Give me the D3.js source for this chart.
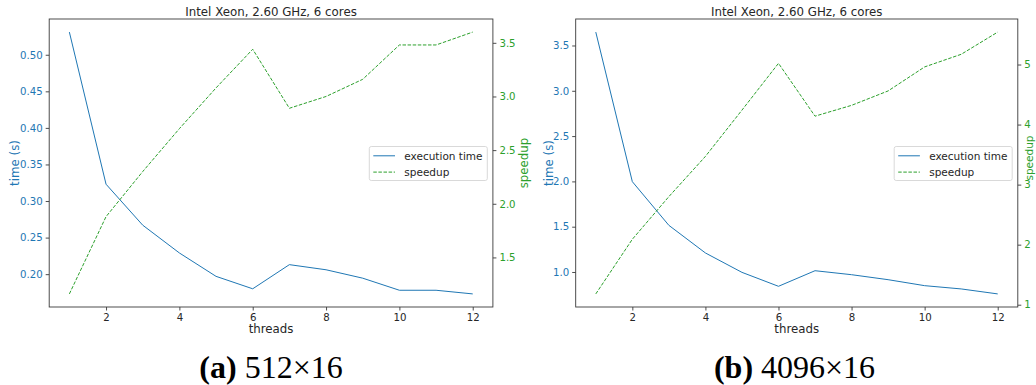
<!DOCTYPE html>
<html>
<head>
<meta charset="utf-8">
<script src="https://cdn.jsdelivr.net/npm/d3@7"></script>
<style>
  html, body { margin: 0; padding: 0; background: #fff; }
  svg { display: block; }
</style>
</head>
<body>
<svg id="chart" width="1036" height="385"></svg>
<script>
// ---------------- data ----------------
const threads = [1, 2, 3, 4, 5, 6, 7, 8, 9, 10, 11, 12];
const threadTicks = [2, 4, 6, 8, 10, 12];

const titleText = "Intel Xeon, 2.60 GHz, 6 cores";
const seriesNames = ["execution time", "speedup"];

// panel (a) 512x16
const timeA    = [0.531, 0.323, 0.267, 0.229, 0.197, 0.180, 0.213, 0.206, 0.1945, 0.178, 0.178, 0.173];
const speedupA = [1.16, 1.88, 2.30, 2.70, 3.08, 3.44, 2.89, 3.00, 3.16, 3.48, 3.48, 3.60];
const timeTicksA  = [0.20, 0.25, 0.30, 0.35, 0.40, 0.45, 0.50];
const timeTickLabelsA = ["0.20", "0.25", "0.30", "0.35", "0.40", "0.45", "0.50"];
const speedTicksA = [1.5, 2.0, 2.5, 3.0, 3.5];
const speedTickLabelsA = ["1.5", "2.0", "2.5", "3.0", "3.5"];

// panel (b) 4096x16
const timeB    = [3.648, 1.997, 1.515, 1.21, 0.996, 0.842, 1.014, 0.970, 0.915, 0.849, 0.813, 0.758];
const speedupB = [1.18, 2.09, 2.80, 3.47, 4.24, 5.02, 4.14, 4.32, 4.56, 4.96, 5.17, 5.54];
const timeTicksB  = [1.0, 1.5, 2.0, 2.5, 3.0, 3.5];
const timeTickLabelsB = ["1.0", "1.5", "2.0", "2.5", "3.0", "3.5"];
const speedTicksB = [1, 2, 3, 4, 5];
const speedTickLabelsB = ["1", "2", "3", "4", "5"];

const captionTagA = "(a)", captionTextA = "512×16";
const captionTagB = "(b)", captionTextB = "4096×16";

// ---------------- drawing ----------------
const svg = d3.select("#chart");
const BLUE = "#1f77b4", GREEN = "#2ca02c", SPINE = "#3a3a3a", TXT = "#262626";
const FONT = "DejaVu Sans, sans-serif";

function padded(vals) {
  const lo = d3.min(vals), hi = d3.max(vals), r = hi - lo;
  return [lo - 0.05 * r, hi + 0.05 * r];
}

function panel(cfg) {
  const { left, right, top, bottom } = cfg;
  const g = svg.append("g");
  const x = d3.scaleLinear().domain([threads[0] - 0.05 * 11, threads[threads.length - 1] + 0.05 * 11]).range([left, right]);
  const yT = d3.scaleLinear().domain(padded(cfg.time)).range([bottom, top]);
  const yS = d3.scaleLinear().domain(padded(cfg.speed)).range([bottom, top]);

  // axes
  const xAxis = d3.axisBottom(x).tickValues(threadTicks).tickFormat(d3.format("d")).tickSizeOuter(0).tickSize(3.5).tickPadding(3);
  const yAxisL = d3.axisLeft(yT).tickValues(cfg.timeTicks).tickFormat((d, i) => cfg.timeLabels[i]).tickSizeOuter(0).tickSize(3.5).tickPadding(3);
  const yAxisR = d3.axisRight(yS).tickValues(cfg.speedTicks).tickFormat((d, i) => cfg.speedLabels[i]).tickSizeOuter(0).tickSize(3.5).tickPadding(3);

  const gx = g.append("g").attr("transform", `translate(0,${bottom})`).call(xAxis);
  const gl = g.append("g").attr("transform", `translate(${left},0)`).call(yAxisL);
  const gr = g.append("g").attr("transform", `translate(${right},0)`).call(yAxisR);
  [gx, gl, gr].forEach(a => {
    a.select(".domain").remove();
    a.selectAll(".tick line").attr("stroke", SPINE).attr("stroke-width", 0.9);
    a.selectAll("text").attr("font-family", FONT).attr("font-size", 10.2);
  });
  gx.selectAll("text").attr("fill", TXT);
  gl.selectAll("text").attr("fill", BLUE);
  gr.selectAll("text").attr("fill", GREEN);

  // frame
  g.append("rect").attr("x", left).attr("y", top).attr("width", right - left).attr("height", bottom - top)
    .attr("fill", "none").attr("stroke", SPINE).attr("stroke-width", 0.9);

  // lines
  const lineT = d3.line().x((d, i) => x(threads[i])).y(d => yT(d));
  const lineS = d3.line().x((d, i) => x(threads[i])).y(d => yS(d));
  g.append("path").datum(cfg.time).attr("d", lineT).attr("fill", "none").attr("stroke", BLUE).attr("stroke-width", 1.0);
  g.append("path").datum(cfg.speed).attr("d", lineS).attr("fill", "none").attr("stroke", GREEN).attr("stroke-width", 1.0)
    .attr("stroke-dasharray", "3.5,1.6");

  // title
  g.append("text").attr("x", (left + right) / 2).attr("y", 15.5).attr("text-anchor", "middle")
    .attr("font-family", FONT).attr("font-size", 11.8).attr("fill", TXT).text(titleText);
  // x label
  g.append("text").attr("x", (left + right) / 2).attr("y", 332.5).attr("text-anchor", "middle")
    .attr("font-family", FONT).attr("font-size", 11.8).attr("fill", TXT).text("threads");
  // y labels
  const cy = (top + bottom) / 2;
  g.append("text").attr("transform", `translate(${cfg.leftLabelX},${cy}) rotate(-90)`).attr("text-anchor", "middle")
    .attr("font-family", FONT).attr("font-size", 11.8).attr("fill", BLUE).text("time (s)");
  g.append("text").attr("transform", `translate(${cfg.rightLabelX},${cfg.rightLabelY}) rotate(-90)`).attr("text-anchor", "middle")
    .attr("font-family", FONT).attr("font-size", cfg.rightLabelSize).attr("fill", GREEN).text("speedup");

  // legend
  const lw = 118, lh = 34;
  const lx = right - 5.6 - lw, ly = cy - lh / 2 + 0.5;
  const lg = g.append("g");
  lg.append("rect").attr("x", lx).attr("y", ly).attr("width", lw).attr("height", lh).attr("rx", 2)
    .attr("fill", "#fff").attr("fill-opacity", 0.85).attr("stroke", "#d5d5d5").attr("stroke-width", 0.9);
  const rows = [ly + 9.3, ly + 25.6];
  lg.append("line").attr("x1", lx + 4).attr("x2", lx + 25.7).attr("y1", rows[0]).attr("y2", rows[0])
    .attr("stroke", BLUE).attr("stroke-width", 1.0);
  lg.append("line").attr("x1", lx + 4).attr("x2", lx + 25.7).attr("y1", rows[1]).attr("y2", rows[1])
    .attr("stroke", GREEN).attr("stroke-width", 1.0).attr("stroke-dasharray", "3.5,1.6");
  seriesNames.forEach((name, i) => {
    lg.append("text").attr("x", lx + 35).attr("y", rows[i] + 3.8)
      .attr("font-family", FONT).attr("font-size", 10.5).attr("fill", TXT).text(name);
  });

  // caption
  const cap = g.append("text").attr("x", cfg.captionX).attr("y", 378).attr("text-anchor", "middle")
    .attr("font-family", "Liberation Serif, serif").attr("font-size", 32).attr("fill", "#000");
  cap.append("tspan").attr("font-weight", "bold").text(cfg.tag);
  cap.append("tspan").text(" " + cfg.caption);
}

panel({ left: 49.2, right: 492.9, top: 19, bottom: 307, time: timeA, speed: speedupA,
  timeTicks: timeTicksA, timeLabels: timeTickLabelsA, speedTicks: speedTicksA, speedLabels: speedTickLabelsA,
  leftLabelX: 18.5, rightLabelX: 527.5, rightLabelY: 163, rightLabelSize: 11.8,
  captionX: 271, tag: captionTagA, caption: captionTextA });
panel({ left: 575.7, right: 1017.8, top: 19, bottom: 307, time: timeB, speed: speedupB,
  timeTicks: timeTicksB, timeLabels: timeTickLabelsB, speedTicks: speedTicksB, speedLabels: speedTickLabelsB,
  leftLabelX: 553, rightLabelX: 1033.3, rightLabelY: 158, rightLabelSize: 10.5,
  captionX: 794.5, tag: captionTagB, caption: captionTextB });
</script>
</body>
</html>
